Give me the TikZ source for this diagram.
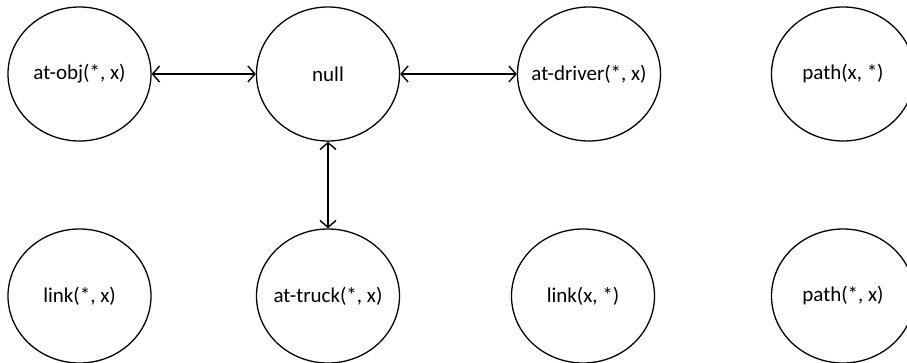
\documentclass[tikz,border=0pt]{standalone}
\usepackage{fontspec}
\setmainfont{Carlito}
\usetikzlibrary{shapes.geometric,arrows.meta}

\newcommand{\statetext}[1]{\makebox[0pt]{#1}}

\begin{document}
\begin{tikzpicture}[x=1pt,y=-1pt,
  state/.style={draw,ellipse,line width=1.3pt,minimum width=143pt,minimum height=134pt,inner sep=0pt,font=\fontsize{21}{24}\selectfont},
  link/.style={{Straight Barb[length=7pt,width=16pt]}-{Straight Barb[length=7pt,width=16pt]},line width=1.4pt}]
\useasboundingbox (0,0) rectangle (907,362);
% top row
\node[state] (atobj) at (79.5,74) {\statetext{at-obj(*, x)}};
\node[state] (null) at (328,74) {\statetext{null}};
\node[state] (atdriver) at (589,74) {\statetext{at-driver(*, x)}};
\node[state] (pathxs) at (843,74) {\statetext{path(x, *)}};
% bottom row
\node[state] (linksx) at (79.5,296) {\statetext{link(*, x)}};
\node[state] (attruck) at (328,296) {\statetext{at-truck(*, x)}};
\node[state] (linkxs) at (583,296) {\statetext{link(x, *)}};
\node[state] (pathsx) at (843,296) {\statetext{path(*, x)}};
% arrows
\draw[link] (atobj) -- (null);
\draw[link] (null) -- (atdriver);
\draw[link] (null) -- (attruck);
\end{tikzpicture}
\end{document}
